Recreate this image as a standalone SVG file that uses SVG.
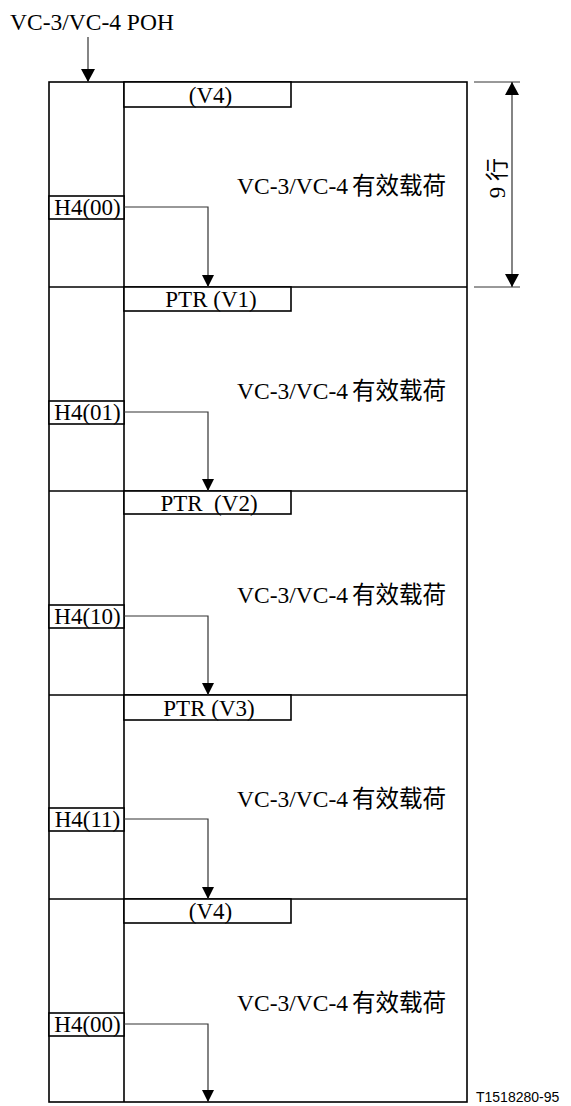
<svg xmlns="http://www.w3.org/2000/svg" width="571" height="1106" viewBox="0 0 571 1106">
<style>
.frame{fill:none;stroke:#000;stroke-width:1.6}
.box{fill:#fff;stroke:#000;stroke-width:1.6}
.conn{fill:none;stroke:#333;stroke-width:1.2}
.t{font-family:"Liberation Serif","Noto Sans CJK SC",serif;font-size:23.5px;fill:#000}
.tc{font-family:"Liberation Serif","Noto Sans CJK SC",serif;font-size:23px;fill:#000}
.cjk{font-family:"Noto Sans CJK SC",sans-serif}
.foot{font-family:"Liberation Sans",sans-serif;font-size:14px;fill:#000}
</style>
<defs>
<marker id="ah" viewBox="0 0 12 12" refX="12" refY="6" markerWidth="12" markerHeight="12" markerUnits="userSpaceOnUse" orient="auto-start-reverse">
<path d="M0,0 L12,6 L0,12 z" fill="#000"/>
</marker>
<marker id="ahd" viewBox="0 0 13 14" refX="13" refY="7" markerWidth="13" markerHeight="14" markerUnits="userSpaceOnUse" orient="auto-start-reverse">
<path d="M0,0 L13,7 L0,14 z" fill="#000"/>
</marker>
</defs>
<rect width="571" height="1106" fill="#fff"/>

<g id="title">
<text class="t" x="10" y="30">VC-3/VC-4 POH</text>
</g>

<g id="frame">
<rect class="frame" x="49" y="82" width="418" height="1020"/>
<line class="frame" x1="124" y1="82" x2="124" y2="1102"/>
<line class="frame" x1="49" y1="287" x2="467" y2="287"/>
<line class="frame" x1="49" y1="491" x2="467" y2="491"/>
<line class="frame" x1="49" y1="695" x2="467" y2="695"/>
<line class="frame" x1="49" y1="899" x2="467" y2="899"/>
<line x1="157" y1="83" x2="232" y2="83" stroke="#000" stroke-width="2.4"/>
</g>

<g id="row1">
<rect class="box" x="124" y="82" width="167" height="25"/>
<text class="tc" x="210.5" y="103" text-anchor="middle">(V4)</text>
<rect class="box" x="49" y="196" width="75" height="23"/>
<text class="tc" x="87.5" y="215" text-anchor="middle">H4(00)</text>
<text class="t" x="237" y="194">VC-3/VC-4<tspan class="cjk" dx="4">有效载荷</tspan></text>
</g>

<g id="row2">
<rect class="box" x="124" y="287" width="167" height="24"/>
<text class="tc" x="211" y="307" text-anchor="middle">PTR (V1)</text>
<rect class="box" x="49" y="401" width="75" height="23"/>
<text class="tc" x="87.5" y="420" text-anchor="middle">H4(01)</text>
<text class="t" x="237" y="399">VC-3/VC-4<tspan class="cjk" dx="4">有效载荷</tspan></text>
</g>

<g id="row3">
<rect class="box" x="124" y="491" width="167" height="23"/>
<text class="tc" x="209" y="511" text-anchor="middle" xml:space="preserve">PTR  (V2)</text>
<rect class="box" x="49" y="605" width="75" height="23"/>
<text class="tc" x="87.5" y="624" text-anchor="middle">H4(10)</text>
<text class="t" x="237" y="603">VC-3/VC-4<tspan class="cjk" dx="4">有效载荷</tspan></text>
</g>

<g id="row4">
<rect class="box" x="124" y="695" width="167" height="25"/>
<text class="tc" x="209" y="716" text-anchor="middle">PTR (V3)</text>
<rect class="box" x="49" y="808" width="75" height="23"/>
<text class="tc" x="87.5" y="827" text-anchor="middle">H4(11)</text>
<text class="t" x="237" y="807">VC-3/VC-4<tspan class="cjk" dx="4">有效载荷</tspan></text>
</g>

<g id="row5">
<rect class="box" x="124" y="899" width="167" height="24"/>
<text class="tc" x="210.5" y="919" text-anchor="middle">(V4)</text>
<rect class="box" x="49" y="1013" width="75" height="23"/>
<text class="tc" x="87.5" y="1032" text-anchor="middle">H4(00)</text>
<text class="t" x="237" y="1011">VC-3/VC-4<tspan class="cjk" dx="4">有效载荷</tspan></text>
</g>

<g id="dimension">
<line x1="474" y1="82" x2="520" y2="82" stroke="#333" stroke-width="1"/>
<line x1="474" y1="287" x2="520" y2="287" stroke="#333" stroke-width="1"/>
<line x1="512" y1="82" x2="512" y2="287" stroke="#333" stroke-width="1.2" marker-start="url(#ahd)" marker-end="url(#ahd)"/>
<text class="tc" transform="translate(505,178) rotate(-90)" text-anchor="middle">9 <tspan class="cjk">行</tspan></text>
</g>

<g id="connectors">
<path class="conn" d="M88,37 V82" marker-end="url(#ahd)"/>
<path class="conn" d="M124,207 H208 V287" marker-end="url(#ah)"/>
<path class="conn" d="M124,412 H208 V491" marker-end="url(#ah)"/>
<path class="conn" d="M124,616 H208 V695" marker-end="url(#ah)"/>
<path class="conn" d="M124,819 H208 V899" marker-end="url(#ah)"/>
<path class="conn" d="M124,1024 H208 V1102" marker-end="url(#ah)"/>
</g>

<g id="footer">
<text class="foot" x="476" y="1102">T1518280-95</text>
</g>
</svg>
